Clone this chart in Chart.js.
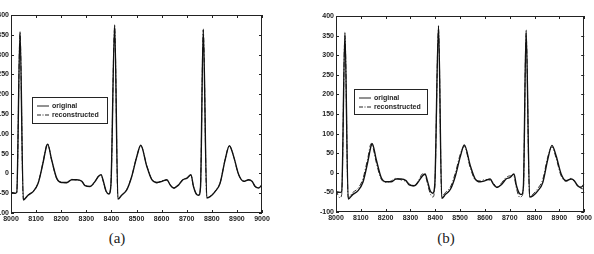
<!DOCTYPE html>
<html><head><meta charset="utf-8">
<script src="https://cdn.jsdelivr.net/npm/chart.js@4/dist/chart.umd.min.js"></script>
<style>
html,body{margin:0;padding:0;background:#fff;width:594px;height:254px;overflow:hidden;position:relative;}
canvas{position:absolute;}
.cap{position:absolute;font-family:'Liberation Serif','DejaVu Serif',serif;font-size:15px;color:#222;transform:translateX(-50%);}
.leg{position:absolute;border:1px solid #222;background:#fff;font-family:'Liberation Sans',Arial,sans-serif;font-size:7px;font-weight:bold;color:#222;line-height:9px;padding:3px 4px;box-sizing:border-box;opacity:0.99;will-change:transform;}
.leg div{display:flex;align-items:center;}
.leg svg{margin-right:3px;}
</style></head>
<body>
<canvas id="ca" width="300" height="230" style="left:-20px;top:0"></canvas>
<canvas id="cb" width="294" height="230" style="left:300px;top:0"></canvas>
<div class="cap" style="left:117px;top:230px">(a)</div>
<div class="cap" style="left:446px;top:230px">(b)</div>
<div class="leg" id="lega" style="left:32px;top:97px;width:76px;height:27px"></div>
<div class="leg" id="legb" style="left:354px;top:89px;width:74px;height:26px"></div>
<script>
const seriesNames = ['original', 'reconstructed'];
const xValues = [8000,8016,8023,8036,8049,8068,8088,8108,8127,8142,8146,8162,8182,8202,8222,8242,8262,8282,8295,8315,8335,8348,8359,8368,8379,8390,8398,8413,8426,8441,8461,8481,8501,8517,8541,8561,8581,8601,8621,8634,8648,8668,8685,8701,8717,8727,8741,8748,8755,8766,8780,8793,8813,8833,8853,8870,8887,8907,8927,8947,8960,8973,8987,9000];
const original = [-48,-50,-48,358,-67,-55,-46,-25,25,70,74,34,-12,-23,-23,-16,-16,-20,-31,-33,-20,-8,-3,-20,-45,-52,-30,375,-65,-55,-42,-8,42,71,18,-16,-23,-20,-16,-29,-37,-29,-16,-12,-3,-33,-54,-55,-35,364,-62,-59,-46,-25,34,70,43,-3,-20,-16,-20,-33,-37,-29];
const reconstructedA = [-47,-51,-47,356,-66,-54,-45,-24,26,71,74,33,-13,-22,-24,-15,-17,-20,-30,-33,-21,-7,-4,-21,-46,-51,-29,373,-64,-54,-41,-7,43,70,19,-15,-24,-19,-17,-28,-37,-28,-15,-12,-4,-34,-53,-54,-34,362,-61,-58,-45,-24,35,70,42,-4,-19,-17,-19,-34,-36,-28];
const reconstructedB = [-45,-64,-55,350,-63,-50,-40,-16,34,75,72,27,-16,-24,-21,-14,-18,-22,-28,-35,-17,-3,-6,-26,-52,-62,-36,368,-60,-50,-36,0,48,67,13,-18,-21,-17,-19,-26,-38,-25,-12,-8,-10,-40,-63,-60,-38,356,-60,-55,-40,-17,40,66,37,-8,-22,-14,-22,-30,-40,-41];
const xTicks = {min: 8000, max: 9000, step: 100};
const yTicks = {min: -100, max: 400, step: 50};

const framePlugin = {
  id: 'frame',
  afterDatasetsDraw(chart) {
    const {ctx, chartArea: a, scales: {x, y}} = chart;
    ctx.save();
    ctx.strokeStyle = '#222'; ctx.lineWidth = 1;
    ctx.strokeRect(Math.round(a.left) + 0.5, Math.round(a.top) + 0.5, Math.round(a.width) - 1, Math.round(a.height) - 1);
    const L = 3;
    ctx.beginPath();
    x.ticks.forEach(t => {
      const px = Math.round(x.getPixelForValue(t.value)) + 0.5;
      ctx.moveTo(px, a.bottom); ctx.lineTo(px, a.bottom - L);
      ctx.moveTo(px, a.top); ctx.lineTo(px, a.top + L);
    });
    y.ticks.forEach(t => {
      const py = Math.round(y.getPixelForValue(t.value)) + 0.5;
      ctx.moveTo(a.left, py); ctx.lineTo(a.left + L, py);
      ctx.moveTo(a.right, py); ctx.lineTo(a.right - L, py);
    });
    ctx.stroke();
    ctx.restore();
  }
};

function makeChart(id, rec, pad, yw, xh) {
  const pts = arr => xValues.map((xv, i) => ({x: xv, y: arr[i]}));
  return new Chart(document.getElementById(id), {
    type: 'line',
    data: {datasets: [
      {label: seriesNames[0], data: pts(original), borderColor: '#111', borderWidth: 1.4, pointRadius: 0, cubicInterpolationMode: 'monotone'},
      {label: seriesNames[1], data: pts(rec), borderColor: '#333', borderWidth: 1, borderDash: [5, 2, 1, 2], pointRadius: 0, cubicInterpolationMode: 'monotone'}
    ]},
    options: {
      responsive: false, animation: false,
      layout: {padding: pad},
      plugins: {legend: {display: false}, tooltip: {enabled: false}},
      scales: {
        x: {type: 'linear', min: xTicks.min, max: xTicks.max,
            grid: {display: false, drawTicks: false}, border: {display: false},
            ticks: {stepSize: xTicks.step, maxRotation: 0, autoSkip: false, padding: 2, color: '#222',
                    font: {family: 'Liberation Sans', size: 7, weight: 'bold'}, callback: v => String(v)},
            afterFit: s => { s.height = xh; }},
        y: {type: 'linear', min: yTicks.min, max: yTicks.max,
            grid: {display: false, drawTicks: false}, border: {display: false},
            ticks: {stepSize: yTicks.step, padding: 2, color: '#222',
                    font: {family: 'Liberation Sans', size: 7, weight: 'bold'}},
            afterFit: s => { s.width = yw; }}
      }
    },
    plugins: [framePlugin]
  });
}
makeChart('ca', reconstructedA, {left: 0, top: 15, right: 18, bottom: 0}, 31, 17);
makeChart('cb', reconstructedB, {left: 0, top: 16, right: 8, bottom: 0}, 36, 18);

function legend(id) {
  const el = document.getElementById(id);
  const dashes = ['', '4,1.5,1,1.5'];
  el.innerHTML = seriesNames.map((n, i) =>
    `<div><svg width="12" height="4"><line x1="0" y1="2" x2="12" y2="2" stroke="#222" stroke-width="1" ${dashes[i] ? `stroke-dasharray="${dashes[i]}"` : ''}/></svg>${n}</div>`).join('');
}
legend('lega'); legend('legb');
</script>
</body></html>
